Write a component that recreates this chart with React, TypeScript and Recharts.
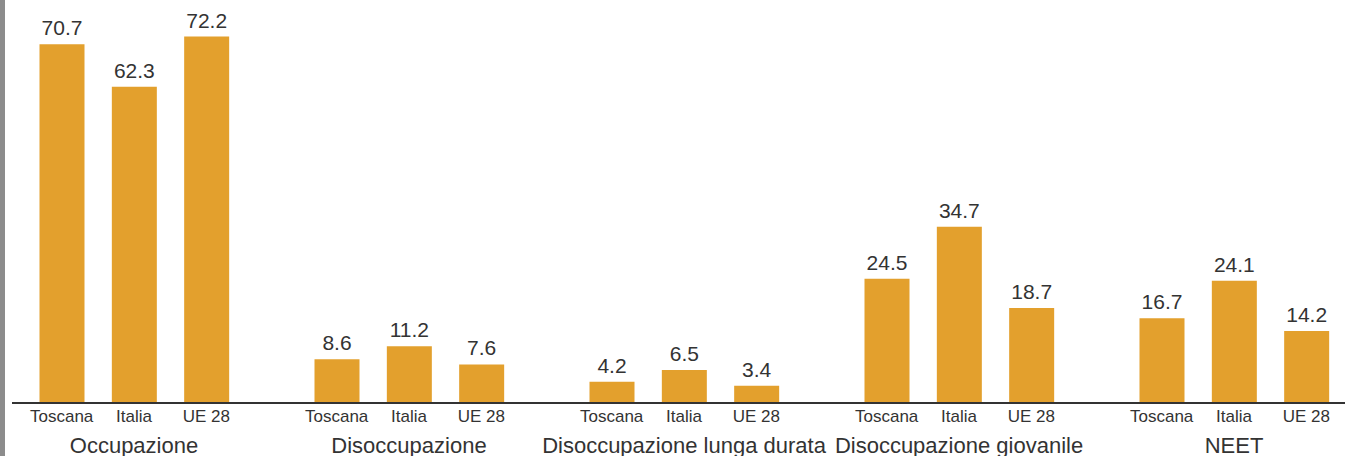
import { BarChart, Bar, XAxis, YAxis, LabelList } from 'recharts';

const regions = ['Toscana', 'Italia', 'UE 28'];
const indicators = [
  'Occupazione',
  'Disoccupazione',
  'Disoccupazione lunga durata',
  'Disoccupazione giovanile',
  'NEET',
];
const occupazione = [70.7, 62.3, 72.2];
const disoccupazione = [8.6, 11.2, 7.6];
const lungaDurata = [4.2, 6.5, 3.4];
const giovanile = [24.5, 34.7, 18.7];
const neet = [16.7, 24.1, 14.2];
const indicatorValues = [occupazione, disoccupazione, lungaDurata, giovanile, neet];

const FONT = 'Liberation Sans, Arial, sans-serif';
const BAR = '#E3A02D';
const INK = '#333333';
const PANEL_W = 275;
const TOTAL_W = 1333;

function RegionTick(props: any) {
  const { x, y, payload, index, group } = props;
  return (
    <g>
      <text x={x} y={y + 19} textAnchor="middle" fill={INK} fontSize={17} fontFamily={FONT}>
        {payload.value}
      </text>
      {index === 1 && (
        <text x={x} y={y + 50} textAnchor="middle" fill={INK} fontSize={22} fontFamily={FONT}>
          {group}
        </text>
      )}
    </g>
  );
}

function Panel({ title, values, width, last }: { title: string; values: number[]; width: number; last: boolean }) {
  const data = regions.map((r, i) => ({ region: r, value: values[i] }));
  return (
    <BarChart width={width} height={456} data={data} margin={{ top: 2, right: 0, bottom: 0, left: 0 }}>
      <YAxis hide domain={[0, 79]} />
      <XAxis
        dataKey="region"
        height={53}
        interval={0}
        padding={{ left: 13.5, right: last ? 2.5 : 44.5 }}
        axisLine={{ stroke: INK, strokeWidth: 2 }}
        tickLine={false}
        tickSize={0}
        tickMargin={0}
        tick={(p: any) => <RegionTick {...p} group={title} />}
      />
      <Bar dataKey="value" fill={BAR} barSize={45} isAnimationActive={false}>
        <LabelList dataKey="value" position="top" offset={9} fill={INK} fontSize={21} fontFamily={FONT} />
      </Bar>
    </BarChart>
  );
}

export default function App() {
  return (
    <div style={{ position: 'absolute', left: 0, top: 0, width: 1345, height: 456, background: '#fff', fontFamily: FONT }}>
      <style>{'.recharts-surface{overflow:visible}'}</style>
      <div style={{ position: 'absolute', left: 0, top: 0, width: 5, height: 456, background: '#8c8c8c' }} />
      <div style={{ position: 'absolute', left: 12, top: 0, width: TOTAL_W, height: 456, display: 'flex' }}>
        {indicators.map((name, i) => {
          const last = i === indicators.length - 1;
          return (
            <Panel
              key={name}
              title={name}
              values={indicatorValues[i]}
              width={last ? TOTAL_W - PANEL_W * (indicators.length - 1) : PANEL_W}
              last={last}
            />
          );
        })}
      </div>
    </div>
  );
}
